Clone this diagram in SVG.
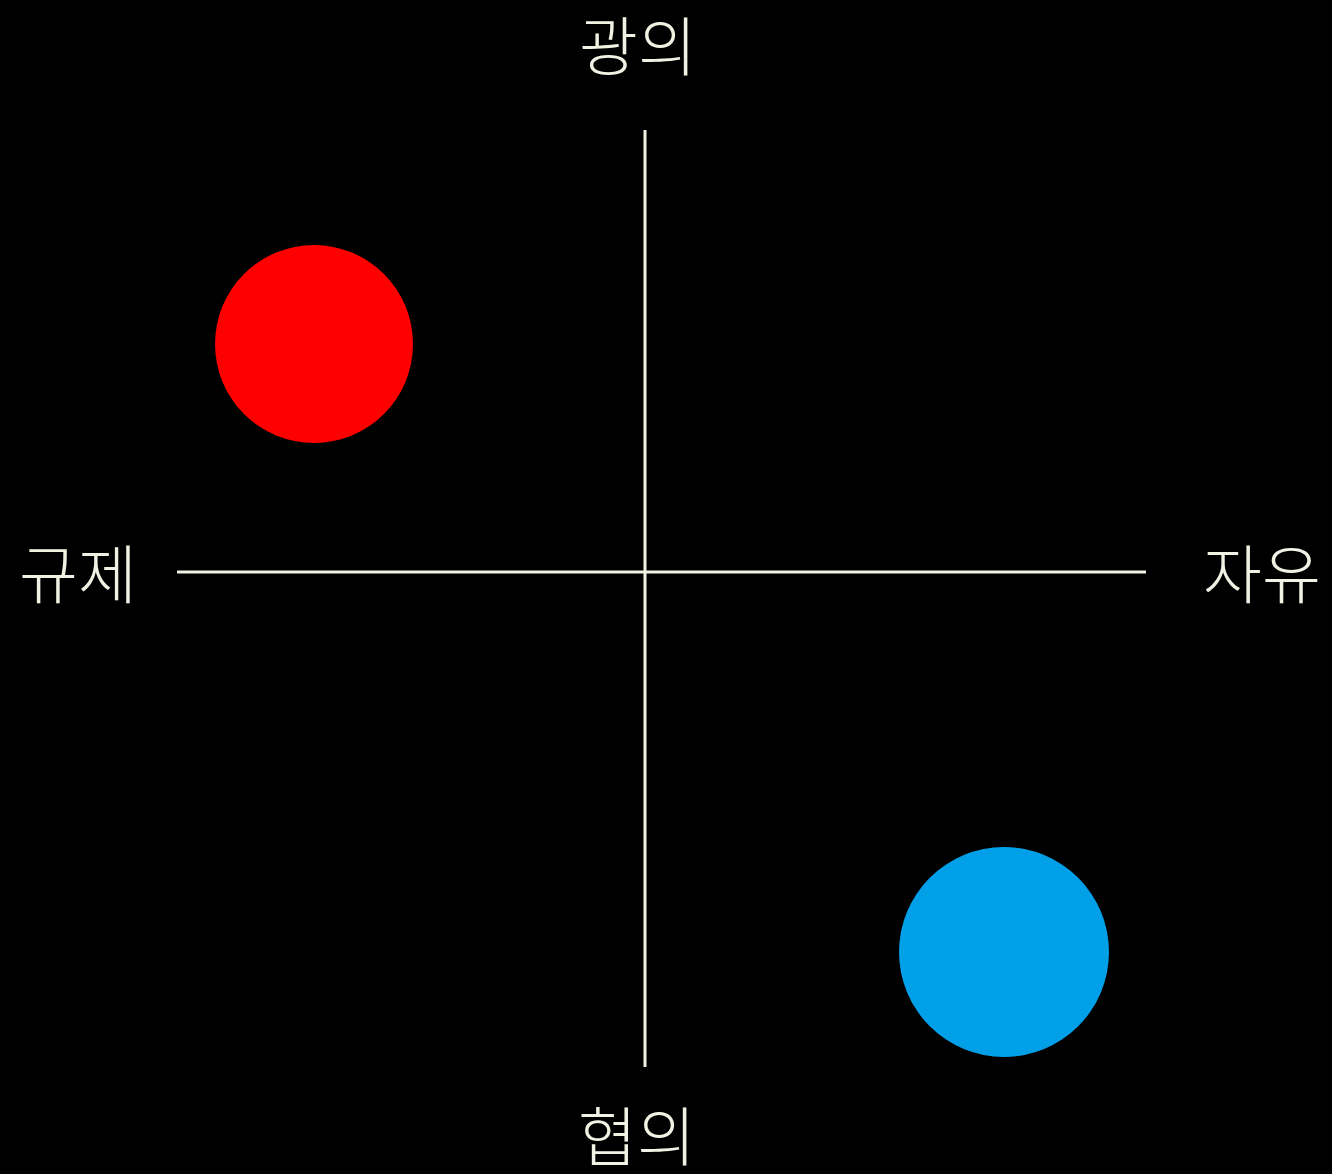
<svg xmlns="http://www.w3.org/2000/svg" width="1332" height="1174" viewBox="0 0 1332 1174">
<style>
.lbl{font-family:"Noto Sans CJK KR","Noto Sans",sans-serif;font-size:64px;font-weight:300;fill:#f2f2e4;text-anchor:middle;dominant-baseline:central}
.axis{stroke:#f2f2e4;stroke-width:3;fill:none}
</style>
<rect width="1332" height="1174" fill="#000"/>
<g id="connectors">
<line class="axis" x1="645" y1="130" x2="645" y2="1067"/>
<line class="axis" x1="177" y1="572" x2="1146" y2="572"/>
</g>
<g id="label-top"><text class="lbl" x="638" y="42">광의</text></g>
<g id="label-left"><text class="lbl" x="78" y="570">규제</text></g>
<g id="label-right"><text class="lbl" x="1262" y="570">자유</text></g>
<g id="label-bottom"><text class="lbl" x="637" y="1132">협의</text></g>
<g id="red-dot"><circle cx="314" cy="344" r="99" fill="#ff0000"/></g>
<g id="blue-dot"><circle cx="1004" cy="952" r="105" fill="#00a0e9"/></g>
</svg>
